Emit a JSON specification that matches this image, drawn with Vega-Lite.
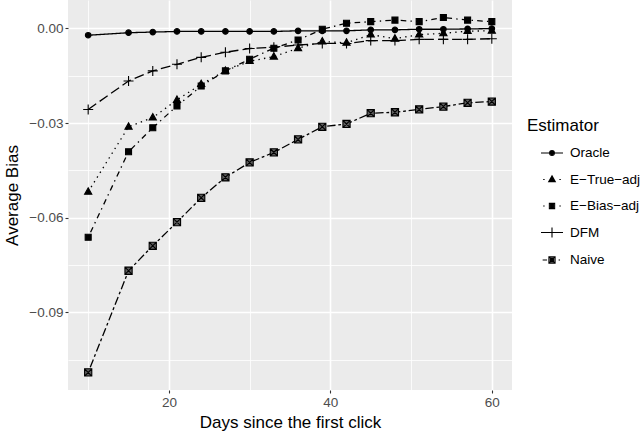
{
  "$schema": "https://vega.github.io/schema/vega-lite/v6.json",
  "width": 444,
  "height": 390,
  "autosize": {"type": "none"},
  "padding": {"left": 68, "top": 0, "right": 128, "bottom": 43},
  "background": "white",
  "config": {
    "font": "Liberation Sans",
    "view": {"fill": "#EBEBEB", "stroke": null},
    "axis": {
      "domain": false,
      "gridColor": "white",
      "tickColor": "#333333",
      "tickSize": 3,
      "tickWidth": 1.1,
      "labelColor": "#4D4D4D",
      "labelFontSize": 13.5,
      "labelFont": "Liberation Sans",
      "titleFont": "Liberation Sans",
      "titleFontSize": 17,
      "titleFontWeight": "normal",
      "titleColor": "black"
    },
    "legend": {
      "titleFont": "Liberation Sans",
      "labelFont": "Liberation Sans",
      "titleFontSize": 17,
      "titleFontWeight": "normal",
      "titleColor": "black",
      "labelFontSize": 13.5,
      "labelColor": "black"
    }
  },
  "data": {
    "values": [
      {"day": 10, "est": "Oracle", "bias": -0.0022},
      {"day": 15, "est": "Oracle", "bias": -0.0014},
      {"day": 18, "est": "Oracle", "bias": -0.0012},
      {"day": 21, "est": "Oracle", "bias": -0.0010},
      {"day": 24, "est": "Oracle", "bias": -0.0010},
      {"day": 27, "est": "Oracle", "bias": -0.0010},
      {"day": 30, "est": "Oracle", "bias": -0.0010},
      {"day": 33, "est": "Oracle", "bias": -0.0010},
      {"day": 36, "est": "Oracle", "bias": -0.0008},
      {"day": 39, "est": "Oracle", "bias": -0.0008},
      {"day": 42, "est": "Oracle", "bias": -0.0008},
      {"day": 45, "est": "Oracle", "bias": -0.0005},
      {"day": 48, "est": "Oracle", "bias": -0.0005},
      {"day": 51, "est": "Oracle", "bias": -0.0003},
      {"day": 54, "est": "Oracle", "bias": -0.0003},
      {"day": 57, "est": "Oracle", "bias": -0.0002},
      {"day": 60, "est": "Oracle", "bias": -0.0001},
      {"day": 10, "est": "E-True-adj", "bias": -0.0518},
      {"day": 15, "est": "E-True-adj", "bias": -0.0312},
      {"day": 18, "est": "E-True-adj", "bias": -0.0283},
      {"day": 21, "est": "E-True-adj", "bias": -0.0227},
      {"day": 24, "est": "E-True-adj", "bias": -0.0177},
      {"day": 27, "est": "E-True-adj", "bias": -0.0135},
      {"day": 30, "est": "E-True-adj", "bias": -0.0104},
      {"day": 33, "est": "E-True-adj", "bias": -0.0090},
      {"day": 36, "est": "E-True-adj", "bias": -0.0063},
      {"day": 39, "est": "E-True-adj", "bias": -0.0042},
      {"day": 42, "est": "E-True-adj", "bias": -0.0046},
      {"day": 45, "est": "E-True-adj", "bias": -0.0020},
      {"day": 48, "est": "E-True-adj", "bias": -0.0033},
      {"day": 51, "est": "E-True-adj", "bias": -0.0020},
      {"day": 54, "est": "E-True-adj", "bias": -0.0016},
      {"day": 57, "est": "E-True-adj", "bias": -0.0009},
      {"day": 60, "est": "E-True-adj", "bias": -0.0008},
      {"day": 10, "est": "E-Bias-adj", "bias": -0.0662},
      {"day": 15, "est": "E-Bias-adj", "bias": -0.0391},
      {"day": 18, "est": "E-Bias-adj", "bias": -0.0315},
      {"day": 21, "est": "E-Bias-adj", "bias": -0.0246},
      {"day": 24, "est": "E-Bias-adj", "bias": -0.0183},
      {"day": 27, "est": "E-Bias-adj", "bias": -0.0135},
      {"day": 30, "est": "E-Bias-adj", "bias": -0.0098},
      {"day": 33, "est": "E-Bias-adj", "bias": -0.0063},
      {"day": 36, "est": "E-Bias-adj", "bias": -0.0037},
      {"day": 39, "est": "E-Bias-adj", "bias": -0.0003},
      {"day": 42, "est": "E-Bias-adj", "bias": 0.0016},
      {"day": 45, "est": "E-Bias-adj", "bias": 0.0021},
      {"day": 48, "est": "E-Bias-adj", "bias": 0.0026},
      {"day": 51, "est": "E-Bias-adj", "bias": 0.0021},
      {"day": 54, "est": "E-Bias-adj", "bias": 0.0034},
      {"day": 57, "est": "E-Bias-adj", "bias": 0.0026},
      {"day": 60, "est": "E-Bias-adj", "bias": 0.0021},
      {"day": 10, "est": "DFM", "bias": -0.0257},
      {"day": 15, "est": "DFM", "bias": -0.0167},
      {"day": 18, "est": "DFM", "bias": -0.0135},
      {"day": 21, "est": "DFM", "bias": -0.0114},
      {"day": 24, "est": "DFM", "bias": -0.0092},
      {"day": 27, "est": "DFM", "bias": -0.0076},
      {"day": 30, "est": "DFM", "bias": -0.0064},
      {"day": 33, "est": "DFM", "bias": -0.0060},
      {"day": 36, "est": "DFM", "bias": -0.0053},
      {"day": 39, "est": "DFM", "bias": -0.0048},
      {"day": 42, "est": "DFM", "bias": -0.0048},
      {"day": 45, "est": "DFM", "bias": -0.0039},
      {"day": 48, "est": "DFM", "bias": -0.0039},
      {"day": 51, "est": "DFM", "bias": -0.0035},
      {"day": 54, "est": "DFM", "bias": -0.0035},
      {"day": 57, "est": "DFM", "bias": -0.0035},
      {"day": 60, "est": "DFM", "bias": -0.0033},
      {"day": 10, "est": "Naive", "bias": -0.1090},
      {"day": 15, "est": "Naive", "bias": -0.0768},
      {"day": 18, "est": "Naive", "bias": -0.0689},
      {"day": 21, "est": "Naive", "bias": -0.0614},
      {"day": 24, "est": "Naive", "bias": -0.0537},
      {"day": 27, "est": "Naive", "bias": -0.0472},
      {"day": 30, "est": "Naive", "bias": -0.0425},
      {"day": 33, "est": "Naive", "bias": -0.0393},
      {"day": 36, "est": "Naive", "bias": -0.0352},
      {"day": 39, "est": "Naive", "bias": -0.0312},
      {"day": 42, "est": "Naive", "bias": -0.0303},
      {"day": 45, "est": "Naive", "bias": -0.0269},
      {"day": 48, "est": "Naive", "bias": -0.0266},
      {"day": 51, "est": "Naive", "bias": -0.0257},
      {"day": 54, "est": "Naive", "bias": -0.0248},
      {"day": 57, "est": "Naive", "bias": -0.0236},
      {"day": 60, "est": "Naive", "bias": -0.0232}
    ]
  },
  "encoding": {
    "x": {
      "field": "day",
      "type": "quantitative",
      "scale": {"domain": [7.5, 62.5], "nice": false, "zero": false},
      "axis": {
        "title": "Days since the first click",
        "values": [10, 20, 30, 40, 50, 60],
        "format": "d",
        "labelExpr": "datum.value % 20 === 0 ? datum.label : ''",
        "gridWidth": {"condition": {"test": "datum.value % 20 === 0", "value": 1.6}, "value": 0.8},
        "tickOpacity": {"condition": {"test": "datum.value % 20 === 0", "value": 1}, "value": 0},
        "labelPadding": 2,
        "titlePadding": 5.5
      }
    },
    "y": {
      "field": "bias",
      "type": "quantitative",
      "scale": {"domain": [-0.11457, 0.00896], "nice": false, "zero": false},
      "axis": {
        "title": "Average Bias",
        "values": [-0.105, -0.09, -0.075, -0.06, -0.045, -0.03, -0.015, 0],
        "format": ".2f",
        "labelExpr": "abs(round(datum.value * 1000)) % 30 === 0 ? datum.label : ''",
        "gridWidth": {"condition": {"test": "abs(round(datum.value * 1000)) % 30 === 0", "value": 1.6}, "value": 0.8},
        "tickOpacity": {"condition": {"test": "abs(round(datum.value * 1000)) % 30 === 0", "value": 1}, "value": 0},
        "labelPadding": 2,
        "titlePadding": 7
      }
    }
  },
  "resolve": {"scale": {"shape": "independent"}},
  "layer": [
    {
      "mark": {"type": "line", "color": "black", "strokeWidth": 1.3},
      "encoding": {
        "strokeDash": {
          "field": "est",
          "type": "nominal",
          "scale": {
            "domain": ["Oracle", "E-True-adj", "E-Bias-adj", "DFM", "Naive"],
            "range": [[1, 0], [1.4, 4.2], [1.4, 4.2, 5.6, 4.2], [9.8, 4.2], [2.8, 2.8, 8.4, 2.8]]
          },
          "legend": null
        }
      }
    },
    {
      "mark": {"type": "point", "size": 100, "stroke": "black", "strokeWidth": 1.1, "opacity": 1},
      "encoding": {
        "shape": {
          "field": "est",
          "type": "nominal",
          "scale": {
            "domain": ["Naive", "Oracle", "E-True-adj", "E-Bias-adj", "DFM"],
            "range": [
              "M-0.72,-0.72H0.72V0.72H-0.72ZM-0.72,-0.72L0.72,0.72M0.72,-0.72L-0.72,0.72",
              "M0.56,0A0.56,0.56 0 1,1 -0.56,0A0.56,0.56 0 1,1 0.56,0Z",
              "M0,-0.8L0.72,0.48L-0.72,0.48Z",
              "M-0.6,-0.6H0.6V0.6H-0.6Z",
              "M-1,0H1M0,-1V1"
            ]
          },
          "legend": null
        },
        "fill": {
          "field": "est",
          "type": "nominal",
          "scale": {
            "domain": ["DFM", "Naive", "Oracle", "E-True-adj", "E-Bias-adj"],
            "range": ["black", "#606060", "black", "black", "black"]
          },
          "legend": null
        }
      }
    },
    {
      "transform": [{"filter": "false"}],
      "mark": {"type": "point", "filled": false, "color": "black", "opacity": 1},
      "encoding": {
        "shape": {
          "field": "est",
          "type": "nominal",
          "scale": {
            "domain": ["Oracle", "E-True-adj", "E-Bias-adj", "DFM", "Naive"],
            "range": [
              "M-1,0H1M0.22,0A0.22,0.22 0 1,1 -0.22,0A0.22,0.22 0 1,1 0.22,0ZM0.12,0A0.12,0.12 0 1,1 -0.12,0A0.12,0.12 0 1,1 0.12,0ZM0.05,0A0.05,0.05 0 1,1 -0.05,0A0.05,0.05 0 1,1 0.05,0Z",
              "M-0.8,0H-0.67M0.67,0H0.8M0,-0.34L0.3,0.2L-0.3,0.2ZM0,-0.2L0.18,0.12L-0.18,0.12ZM0,-0.08L0.07,0.05L-0.07,0.05Z",
              "M-0.8,0H-0.67M0.67,0H0.8M-0.24,-0.24H0.24V0.24H-0.24ZM-0.13,-0.13H0.13V0.13H-0.13ZM-0.03,-0.03H0.03V0.03H-0.03Z",
              "M-1,0H1M0,-0.45V0.45",
              "M-0.85,0H-0.45M0.6,0H0.73M-0.28,-0.28H0.28V0.28H-0.28ZM-0.28,-0.28L0.28,0.28M0.28,-0.28L-0.28,0.28M-0.15,-0.15H0.15V0.15H-0.15Z"
            ]
          },
          "legend": {
            "title": "Estimator",
            "orient": "none",
            "legendX": 459,
            "legendY": 118,
            "padding": 0,
            "symbolSize": 484,
            "symbolStrokeWidth": 1.1,
            "symbolStrokeColor": "black",
            "symbolOpacity": 1,
            "symbolOffset": 13,
            "labelOffset": 6,
            "rowPadding": 7.5,
            "titlePadding": 6,
            "labelExpr": "join(split(datum.label, '-'), '−')"
          }
        }
      }
    }
  ]
}
